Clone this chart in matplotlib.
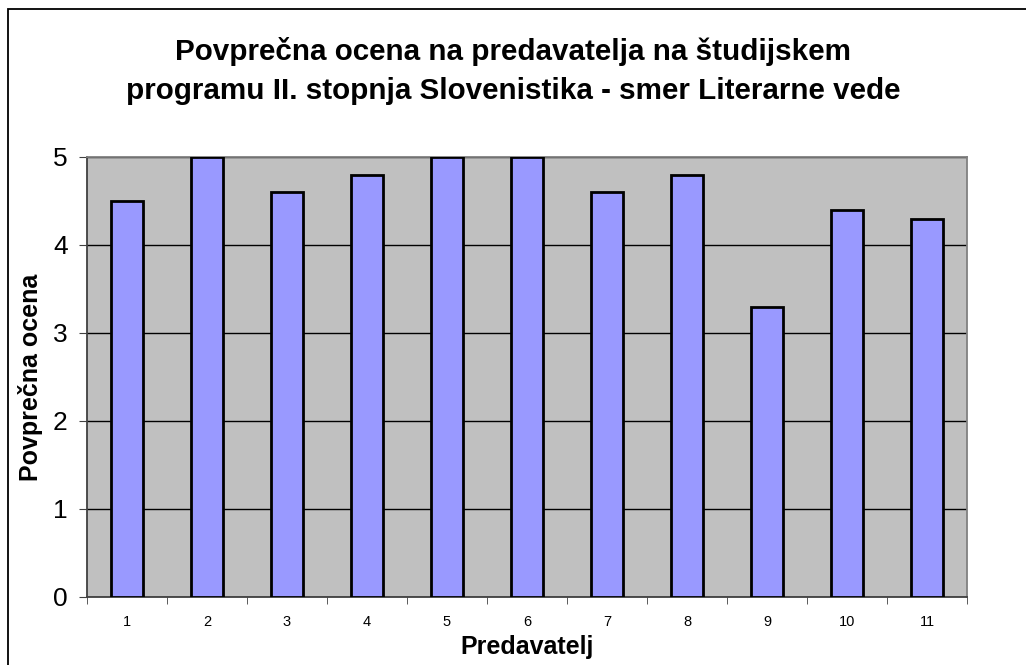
import matplotlib.pyplot as plt
import numpy as np
from matplotlib.patches import Rectangle

plt.rcParams['font.family'] = ['Liberation Sans', 'DejaVu Sans']

lecturers = ['1', '2', '3', '4', '5', '6', '7', '8', '9', '10', '11']
scores = [4.5, 5.0, 4.6, 4.8, 5.0, 5.0, 4.6, 4.8, 3.3, 4.4, 4.3]

title = ('Povprečna ocena na predavatelja na študijskem\n'
         'programu II. stopnja Slovenistika - smer Literarne vede')

fig = plt.figure(figsize=(10.26, 6.65), dpi=100)
ax = fig.add_axes([87 / 1026, 1 - 597 / 665, 880 / 1026, 440 / 665])

# outer chart border (only top and left fall inside the picture)
fig.patches.append(Rectangle((8 / 1026, -0.1), 1.2, 1 - 9 / 665 + 0.1,
                             transform=fig.transFigure, fill=False,
                             edgecolor='black', linewidth=1.3))

x = np.arange(len(lecturers))
ax.set_facecolor('#c0c0c0')
ax.bar(x, scores, width=0.41, color='#9999ff', edgecolor='black',
       linewidth=2, zorder=3)

ax.set_xlim(-0.5, len(lecturers) - 0.5)
ax.set_ylim(0, 5)
ax.set_yticks(range(6))
ax.yaxis.grid(True, color='black', linewidth=1)
ax.set_axisbelow(True)

ax.set_xticks(x)
ax.set_xticklabels(lecturers, fontsize=10.5)
ax.set_xticks(np.arange(-0.5, len(lecturers)), minor=True)
ax.tick_params(axis='x', which='major', length=0, pad=13)
ax.tick_params(axis='x', which='minor', length=5, color='#404040')
ax.tick_params(axis='y', labelsize=19, length=6, pad=8, color='#404040')

for side in ['top', 'right']:
    ax.spines[side].set_color('#808080')
ax.spines['left'].set_color('#404040')
ax.spines['bottom'].set_color('#404040')
for s in ax.spines.values():
    s.set_linewidth(1.3)

ax.set_xlabel('Predavatelj', fontsize=18, fontweight='bold', labelpad=4)
ax.set_ylabel('Povprečna ocena', fontsize=18, fontweight='bold', labelpad=7)
fig.text(0.5, 1 - 71 / 665, title, ha='center', va='center',
         fontsize=21.3, fontweight='bold', linespacing=1.5)

fig.savefig('out.png', dpi=100)
